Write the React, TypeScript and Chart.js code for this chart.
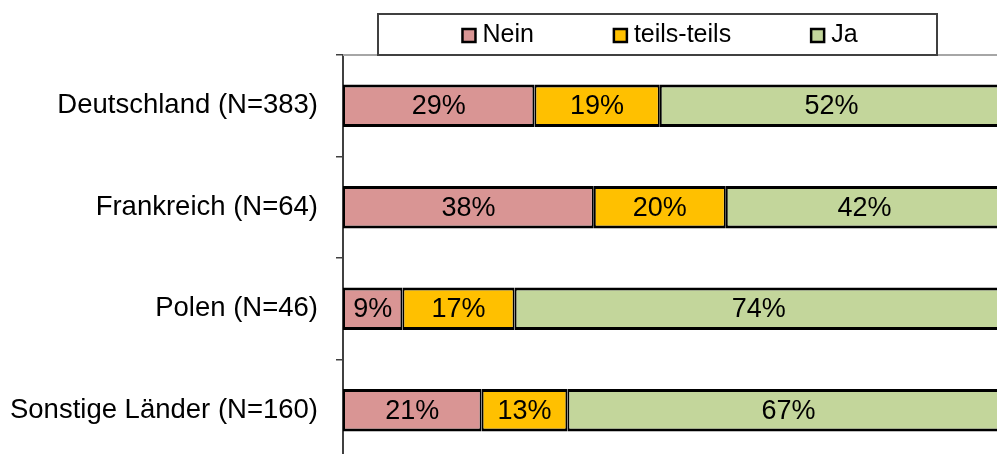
import React, { useEffect, useRef } from "react";
import { Chart, registerables } from "chart.js";

Chart.register(...registerables);

const categories = ["Deutschland (N=383)", "Frankreich (N=64)", "Polen (N=46)", "Sonstige Länder (N=160)"];
const seriesLabels = ["Nein", "teils-teils", "Ja"];
const neinValues = [29, 38, 9, 21];
const teilsValues = [19, 20, 17, 13];
const jaValues = [52, 42, 74, 67];
const seriesColors = ["#D99594", "#FFC000", "#C3D69B"];

const FONT = "'Liberation Sans', Arial, sans-serif";

const dataLabelPlugin = {
  id: "dataLabels",
  afterDatasetsDraw(chart: any) {
    const ctx = chart.ctx;
    ctx.save();
    ctx.font = `27px ${FONT}`;
    ctx.fillStyle = "#000";
    ctx.textAlign = "center";
    ctx.textBaseline = "middle";
    chart.data.datasets.forEach((ds: any, i: number) => {
      const meta = chart.getDatasetMeta(i);
      meta.data.forEach((bar: any, j: number) => {
        const p = bar.getProps(["x", "base", "y"], true);
        ctx.fillText(ds.data[j] + "%", (p.x + p.base) / 2, p.y + 1);
      });
    });
    ctx.restore();
  },
};

const frameLegendPlugin = {
  id: "frameLegend",
  afterDraw(chart: any) {
    const ctx = chart.ctx;
    const area = chart.chartArea;
    ctx.save();
    // plot area top border
    ctx.strokeStyle = "#A6A6A6";
    ctx.lineWidth = 2;
    ctx.beginPath();
    ctx.moveTo(area.left, area.top);
    ctx.lineTo(area.right, area.top);
    ctx.stroke();

    // legend box
    const boxL = 378, boxT = 14, boxR = 937, boxB = 55;
    ctx.fillStyle = "#fff";
    ctx.fillRect(boxL, boxT, boxR - boxL, boxB - boxT);
    ctx.strokeStyle = "#404040";
    ctx.lineWidth = 2;
    ctx.strokeRect(boxL, boxT, boxR - boxL, boxB - boxT);

    ctx.font = `25px ${FONT}`;
    ctx.textBaseline = "middle";
    ctx.textAlign = "left";
    const sq = 13, gapText = 7, gapItem = 80;
    const widths = chart.data.datasets.map((ds: any) => sq + gapText + ctx.measureText(ds.label).width);
    const total = widths.reduce((a: number, b: number) => a + b, 0) + gapItem * (widths.length - 1);
    let x = 660 - total / 2;
    const cy = 35.5;
    chart.data.datasets.forEach((ds: any, i: number) => {
      ctx.fillStyle = ds.backgroundColor;
      ctx.fillRect(x, cy - sq / 2, sq, sq);
      ctx.strokeStyle = "#000";
      ctx.lineWidth = 2.5;
      ctx.strokeRect(x, cy - sq / 2, sq, sq);
      ctx.fillStyle = "#000";
      ctx.fillText(ds.label, x + sq + gapText, cy);
      x += widths[i] + gapItem;
    });
    ctx.restore();
  },
};

export default function App() {
  const ref = useRef<HTMLCanvasElement>(null);

  useEffect(() => {
    const canvas = ref.current;
    if (!canvas) return;
    const values = [neinValues, teilsValues, jaValues];
    const chart = new Chart(canvas, {
      type: "bar",
      data: {
        labels: categories,
        datasets: seriesLabels.map((label, i) => ({
          label,
          data: values[i],
          backgroundColor: seriesColors[i],
          borderColor: "#000",
          borderWidth: { top: 3, bottom: 3, left: 2, right: 2 },
          borderSkipped: false,
          categoryPercentage: 1,
          barPercentage: 0.42,
        })),
      },
      options: {
        indexAxis: "y",
        responsive: false,
        maintainAspectRatio: false,
        animation: false,
        events: [],
        layout: { padding: { left: 0, top: 55, right: 12, bottom: 9 } },
        plugins: {
          legend: { display: false },
          tooltip: { enabled: false },
        },
        scales: {
          x: {
            stacked: true,
            min: 0,
            max: 100,
            display: false,
          },
          y: {
            stacked: true,
            afterFit: (scale: any) => {
              scale.width = 343;
              scale.paddingTop = 0;
              scale.paddingBottom = 0;
            },
            grid: {
              offset: true,
              drawOnChartArea: false,
              drawTicks: true,
              tickLength: 7,
              color: "#404040",
              lineWidth: 1.5,
            },
            border: { display: true, color: "#404040", width: 2 },
            ticks: {
              color: "#000",
              padding: 18,
              font: { family: FONT, size: 27.5 },
            },
          },
        },
      },
      plugins: [dataLabelPlugin, frameLegendPlugin],
    } as any);
    return () => chart.destroy();
  }, []);

  return (
    <div style={{ position: "absolute", left: 0, top: 0, width: 997, height: 454, overflow: "hidden", background: "#fff" }}>
      <canvas ref={ref} width={1015} height={470} style={{ display: "block", width: 1015, height: 470 }} />
    </div>
  );
}
